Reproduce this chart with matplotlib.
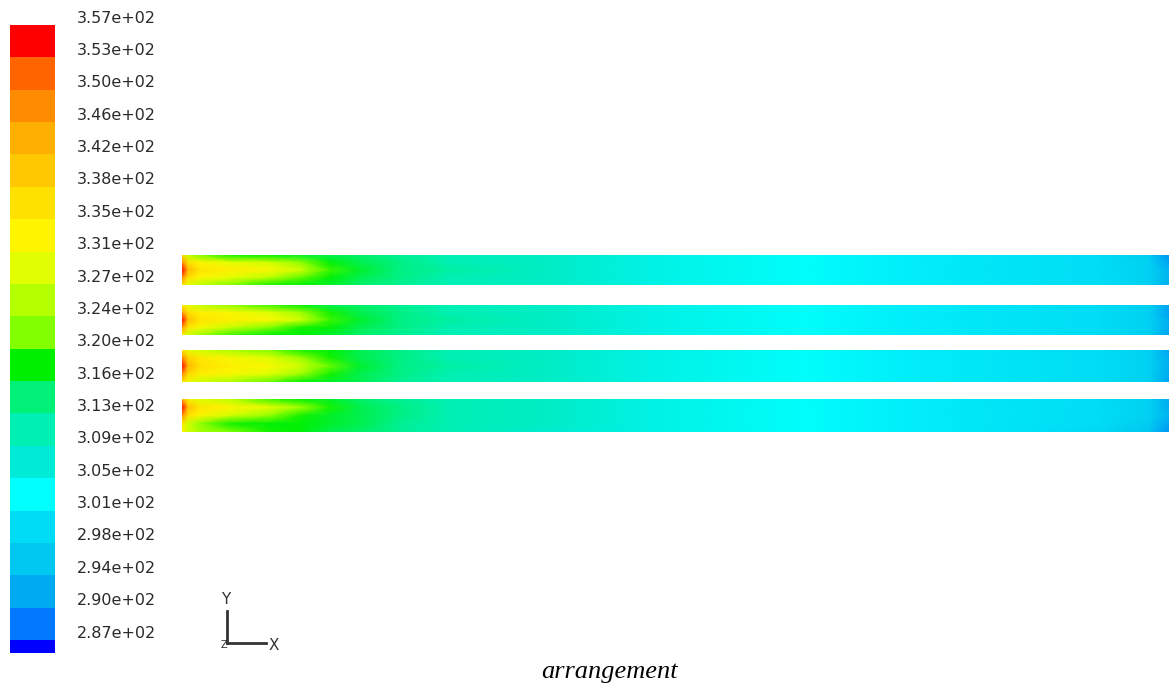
import numpy as np
import matplotlib
matplotlib.use('Agg')
import matplotlib.pyplot as plt
from matplotlib.colors import ListedColormap, LinearSegmentedColormap, Normalize

# Colour bar levels (top to bottom), temperature in K
label_vals = [357, 353, 350, 346, 342, 338, 335, 331, 327, 324,
              320, 316, 313, 309, 305, 301, 298, 294, 290, 287]
band_colors = ['#FF0000', '#FF6400', '#FF8C00', '#FFAF00', '#FFC800',
               '#FFE100', '#FFF500', '#E1FF00', '#B4FF00', '#82FF00',
               '#00F000', '#00F078', '#00F0B4', '#00EBD7', '#00FFFF',
               '#00DCF5', '#00C8F0', '#00AAF0', '#0078FF', '#0000FF']

# Axial stations along the tubes (x / L) and radial rows (top wall -> bottom wall)
stations = [0, .006, .018, .049, .089, .12, .15, .18, .22, .27,
            .37, .47, .63, .73, .83, .93, .98, 1.0]
radial = [1, 0.5, 0, -0.5, -1]

tube1 = [[336, 327, 322, 319, 318, 317, 316, 315, 313, 311, 309, 306, 304, 302, 301, 300, 297, 291],
         [348, 337, 333, 330, 328, 323, 318, 316, 314, 311, 309, 306, 304, 302, 301, 300, 298, 292],
         [356, 343, 336, 334, 332, 328, 320, 317, 314, 312, 309, 306, 304, 302, 301, 300, 298, 294],
         [348, 337, 333, 330, 326, 321, 318, 316, 314, 311, 309, 306, 304, 302, 301, 300, 298, 294],
         [336, 330, 326, 322, 319, 318, 317, 315, 313, 311, 309, 306, 304, 302, 301, 300, 298, 293]]
tube2 = [[334, 330, 327, 323, 320, 318, 316, 315, 313, 311, 309, 306, 304, 302, 301, 300, 298, 292],
         [346, 337, 334, 332, 329, 324, 319, 316, 314, 311, 309, 306, 304, 302, 301, 300, 298, 292],
         [355, 342, 336, 334, 332, 328, 320, 317, 314, 312, 309, 306, 304, 302, 301, 300, 298, 293],
         [346, 336, 332, 327, 322, 319, 318, 316, 314, 311, 309, 306, 304, 302, 301, 300, 298, 293],
         [334, 328, 324, 320, 318, 318, 317, 315, 313, 311, 309, 306, 304, 302, 301, 300, 298, 292]]
tube3 = [[336, 331, 328, 325, 322, 319, 318, 316, 314, 311, 309, 306, 304, 302, 301, 300, 298, 292],
         [348, 339, 335, 332, 329, 324, 319, 316, 314, 311, 309, 306, 304, 302, 301, 300, 298, 293],
         [356, 343, 337, 334, 332, 328, 321, 317, 314, 312, 309, 306, 304, 302, 301, 300, 298, 293],
         [348, 338, 334, 332, 329, 324, 319, 316, 314, 311, 309, 306, 304, 302, 301, 300, 298, 293],
         [336, 331, 328, 325, 321, 318, 317, 316, 313, 311, 309, 306, 304, 302, 301, 300, 298, 292]]
tube4 = [[343, 334, 329, 326, 320, 318, 317, 315, 313, 311, 309, 306, 304, 302, 301, 300, 298, 293],
         [356, 342, 336, 333, 330, 324, 319, 316, 314, 311, 309, 306, 304, 302, 301, 300, 298, 293],
         [347, 337, 333, 328, 323, 319, 317, 316, 314, 311, 309, 306, 304, 302, 301, 300, 298, 294],
         [336, 328, 323, 319, 318, 318, 317, 316, 313, 311, 309, 306, 304, 302, 301, 300, 297, 292],
         [332, 328, 325, 322, 319, 318, 316, 315, 313, 311, 308, 306, 304, 302, 301, 299, 296, 291]]
tubes = [tube1, tube2, tube3, tube4]

W, H = 1169, 685
fig = plt.figure(figsize=(W / 100, H / 100), dpi=100)
fig.patch.set_facecolor('white')


def px_axes(x0, y0, x1, y1):
    # axes placed by pixel box (top-left origin)
    return fig.add_axes([x0 / W, 1 - y1 / H, (x1 - x0) / W, (y1 - y0) / H])


# --- colour bar (the bottom band is cut off by the image edge)
band_px = 32.37
cb_ax = px_axes(10, 25, 55, 653)
cb_ax.pcolormesh([0, 1], np.arange(len(band_colors) + 1),
                 np.arange(len(band_colors))[:, None],
                 cmap=ListedColormap(band_colors), vmin=-0.5, vmax=len(band_colors) - 0.5)
cb_ax.set_xlim(0, 1)
cb_ax.set_ylim((653 - 25) / band_px, 0)
cb_ax.axis('off')
for i, v in enumerate(label_vals):
    cb_ax.annotate(f'{v:.2e}', xy=(1, i), xycoords=('axes fraction', 'data'),
                   xytext=(16, 5), textcoords='offset points',
                   ha='left', va='center', fontsize=11.5, color='#2a2a2a',
                   annotation_clip=False)

# --- temperature field in the tubes
cmap = LinearSegmentedColormap.from_list('fluent', band_colors[::-1])
step = (label_vals[0] - label_vals[-1]) / (len(label_vals) - 1)
norm = Normalize(vmin=label_vals[0] - step * (len(band_colors) - 0.5),
                 vmax=label_vals[0] - step * 0.5)

tube_boxes = [(255, 285), (305, 335), (350, 382), (399, 432)]
for (top, bot), field in zip(tube_boxes, tubes):
    ax = px_axes(182, top, W, bot)
    ax.pcolormesh(stations, radial, np.array(field), shading='gouraud',
                  cmap=cmap, norm=norm)
    ax.set_xlim(0, 1)
    ax.set_ylim(-1, 1)
    ax.axis('off')

# --- overlay: axis triad and caption
ov = px_axes(0, 0, W, H)
ov.set_xlim(0, W)
ov.set_ylim(H, 0)
ov.axis('off')
ov.plot([227, 227], [611, 643], color='#333333', lw=2)
ov.plot([227, 266], [643, 643], color='#333333', lw=2)
ov.text(226, 600, 'Y', ha='center', va='center', fontsize=11, color='#333333')
ov.text(274, 646, 'X', ha='center', va='center', fontsize=11, color='#333333')
ov.text(224, 645, 'Z', ha='center', va='center', fontsize=7, color='#333333')
ov.text(610, 672, 'arrangement', ha='center', va='center', fontsize=19,
        family='Liberation Serif', style='italic', color='black')

fig.savefig('out.png', dpi=100)
